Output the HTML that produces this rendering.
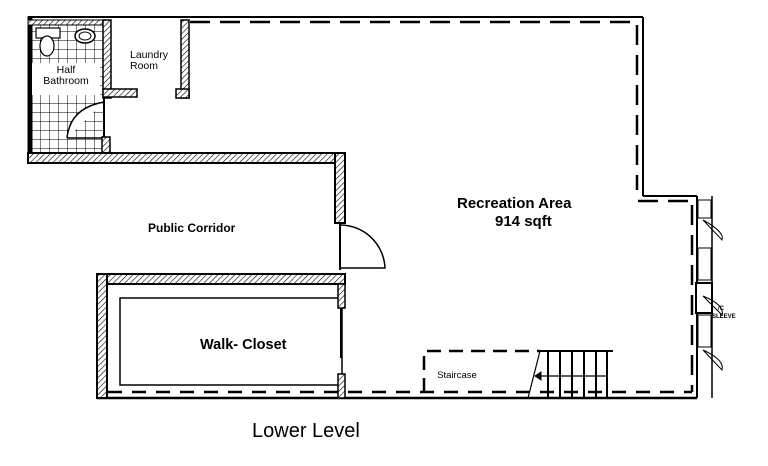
<!DOCTYPE html>
<html><head><meta charset="utf-8"><style>
html,body{margin:0;padding:0;background:#fff;}
svg{display:block;}
text{font-family:"Liberation Sans",Arial,sans-serif;fill:#000;}
</style></head><body>
<svg width="768" height="466" viewBox="0 0 768 466" xmlns="http://www.w3.org/2000/svg">
<defs>
<pattern id="h" width="4" height="4" patternUnits="userSpaceOnUse" patternTransform="rotate(45)">
<rect width="4" height="4" fill="#fff"/><line x1="0" y1="0" x2="0" y2="4" stroke="#000" stroke-width="1.2"/>
</pattern>
<pattern id="tile" width="9" height="9" patternUnits="userSpaceOnUse" x="31" y="22">
<rect width="9" height="9" fill="#fff"/><path d="M0 0H9M0 0V9" stroke="#000" stroke-width="1"/>
</pattern>
</defs>
<g stroke="#000" fill="none">
<line x1="28" y1="17" x2="643" y2="17" stroke-width="2"/>
<line x1="190" y1="22" x2="640" y2="22" stroke-width="2.5" stroke-dasharray="20,10"/>
<line x1="643" y1="17" x2="643" y2="196" stroke-width="2"/>
<line x1="637" y1="25" x2="637" y2="190" stroke-width="2.5" stroke-dasharray="20,10"/>
<line x1="643" y1="196" x2="697" y2="196" stroke-width="2"/>
<line x1="638" y1="201" x2="690" y2="201" stroke-width="2.5" stroke-dasharray="20,10"/>
<line x1="697" y1="196" x2="697" y2="398" stroke-width="2"/>
<line x1="712" y1="196" x2="712" y2="398" stroke-width="1.5"/>
<line x1="692" y1="205" x2="692" y2="392" stroke-width="2.5" stroke-dasharray="20,10"/>
<rect x="698" y="200" width="13" height="18" fill="#fff"/>
<rect x="698" y="248" width="13" height="32" fill="#fff"/>
<rect x="696" y="283" width="16" height="30" fill="#fff" stroke-width="2"/>
<rect x="698" y="315" width="13" height="32" fill="#fff"/>
<path d="M703 220 L722 240 Q725 232 703 220" stroke-width="1"/>
<path d="M703 296 L722 315 Q725 305 703 296" stroke-width="1"/>
<path d="M703 350 L722 370 Q725 360 703 350" stroke-width="1"/>
<line x1="97" y1="398" x2="697" y2="398" stroke-width="2.5"/>
<line x1="108" y1="392" x2="692" y2="392" stroke-width="2.5" stroke-dasharray="14,10"/>
<rect x="31" y="22" width="73" height="133" fill="url(#tile)" stroke-width="2"/>
<rect x="28" y="17" width="4" height="145" fill="#000"/>
<rect x="28" y="20" width="76" height="5" fill="url(#h)" stroke-width="1"/>
<rect x="32" y="63" width="68" height="32" fill="#fff" stroke="none"/>
<rect x="36" y="28" width="24" height="10" fill="#fff" stroke-width="1.2"/>
<ellipse cx="47" cy="46" rx="7" ry="10" fill="#fff" stroke-width="1.2"/>
<ellipse cx="85" cy="36" rx="10" ry="7" fill="#fff" stroke-width="1.5"/>
<ellipse cx="85" cy="36" rx="6" ry="4" fill="#fff" stroke-width="1"/>
<path d="M67 138 L104 138 M67 138 Q70 108 104 102" fill="#fff" stroke-width="1.5"/>
<rect x="102" y="137" width="8" height="16" fill="url(#h)" stroke-width="1.5"/>
<rect x="103" y="20" width="8" height="78" fill="url(#h)" stroke-width="1.5"/>
<rect x="103" y="89" width="34" height="8" fill="url(#h)" stroke-width="1.5"/>
<rect x="181" y="20" width="8" height="78" fill="url(#h)" stroke-width="1.5"/>
<rect x="176" y="89" width="13" height="9" fill="url(#h)" stroke-width="1.5"/>
<rect x="28" y="153" width="317" height="10" fill="url(#h)" stroke-width="2"/>
<rect x="335" y="153" width="10" height="70" fill="url(#h)" stroke-width="2"/>
<rect x="336" y="163" width="8" height="5" fill="url(#h)" stroke="none"/>
<line x1="340" y1="222" x2="340" y2="270" stroke-width="2"/>
<path d="M340 268 H385 A45 45 0 0 0 340 225" stroke-width="1.5"/>
<rect x="97" y="274" width="248" height="10" fill="url(#h)" stroke-width="2"/>
<rect x="97" y="274" width="10" height="124" fill="url(#h)" stroke-width="2"/>
<rect x="120" y="298" width="222" height="87" stroke-width="1.5"/>
<rect x="338" y="284" width="7" height="24" fill="url(#h)" stroke-width="1.5"/>
<line x1="341" y1="308" x2="341" y2="358" stroke-width="2"/>
<rect x="338" y="374" width="7" height="24" fill="url(#h)" stroke-width="1.5"/>
<path d="M424 392 V351 H540" stroke-width="2.5" stroke-dasharray="14,8"/>
<line x1="540" y1="351" x2="613" y2="351" stroke-width="2"/>
<line x1="540" y1="351" x2="528" y2="398" stroke-width="1.2"/>
<g stroke-width="2"><line x1="548" y1="351" x2="548" y2="398"/><line x1="560" y1="351" x2="560" y2="398"/><line x1="572" y1="351" x2="572" y2="398"/><line x1="584" y1="351" x2="584" y2="398"/><line x1="596" y1="351" x2="596" y2="398"/><line x1="607" y1="351" x2="607" y2="398"/></g>
<line x1="536" y1="376" x2="607" y2="376" stroke-width="1.2"/>
<path d="M541 372 L535 376 L541 380 Z" fill="#000"/>
</g>
<text x="66" y="73" font-size="10.5" text-anchor="middle">Half</text>
<text x="66" y="84" font-size="10.5" text-anchor="middle">Bathroom</text>
<text x="130" y="58" font-size="10.5">Laundry</text>
<text x="130" y="69" font-size="10.5">Room</text>
<text x="148" y="232" font-size="12" font-weight="bold">Public Corridor</text>
<text x="457" y="208" font-size="15" font-weight="bold">Recreation Area</text>
<text x="495" y="226" font-size="15" font-weight="bold">914 sqft</text>
<text x="200" y="349" font-size="14.5" font-weight="bold">Walk- Closet</text>
<text x="457" y="378" font-size="9.5" text-anchor="middle">Staircase</text>
<text x="718" y="310" font-size="6" font-weight="bold">/C</text>
<text x="712" y="318" font-size="6" font-weight="bold">SLEEVE</text>
<text x="252" y="437" font-size="20">Lower Level</text>
</svg>
</body></html>
